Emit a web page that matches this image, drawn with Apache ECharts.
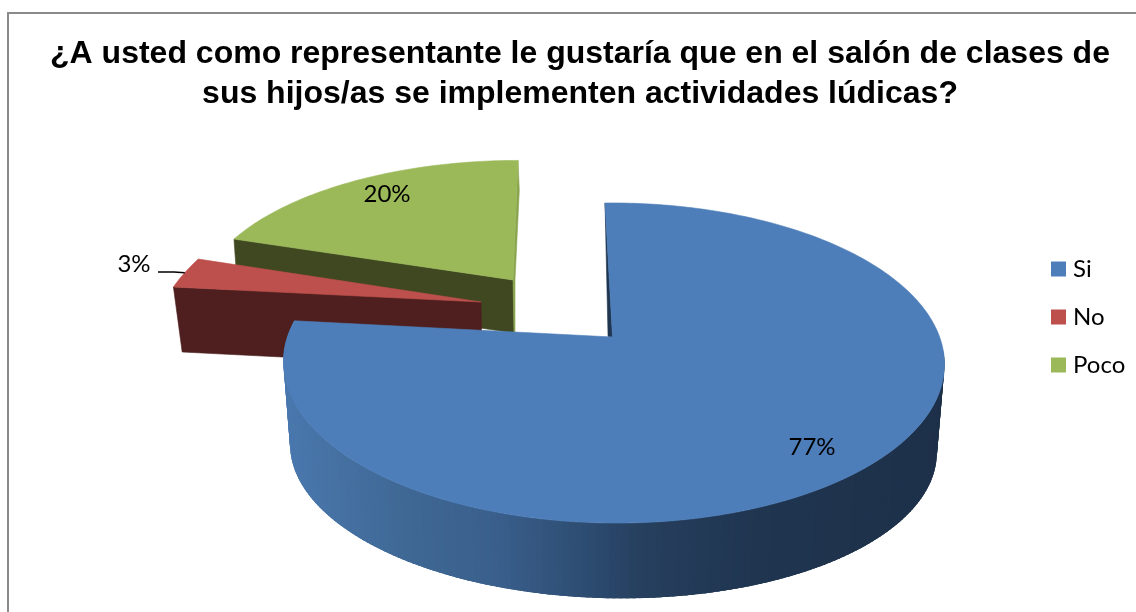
<!DOCTYPE html>
<html><head><meta charset="utf-8">
<style>html,body{margin:0;padding:0;background:#fff}#c{width:1136px;height:612px}</style>
<script src="https://cdn.jsdelivr.net/npm/echarts@6/dist/echarts.min.js"></script>
</head><body><div id="c"></div>
<script>
const titleLines = ['¿A usted como representante le gustaría que en el salón de clases de', 'sus hijos/as se implementen actividades lúdicas?'];
const categories = ['Si', 'No', 'Poco'];
const values = [77, 3, 20];
const colors = ['#4e7eb9', '#bd4f4c', '#9bb959'];
const wallColors = ['#1f3550', '#4e1f1e', '#3f4820'];
const total = values.reduce((a, b) => a + b, 0);

// Perspective of each exploded slice: top face and bottom face of the extruded disc
const K = 0.1625;
const planes = [
  { top: { x: 612.5, y: 337, a: 326, b: 155.8, s: -8.7, q: 3 }, bottom: { x: 612, y: 424, a: 319, b: 146, s: -8.7, q: 0 } },
  { top: { x: 481, y: 302, a: 319, b: 161, s: 21, q: 4.9 }, bottom: { x: 482, y: 367, a: 311, b: 122, s: 21, q: 0 } },
  { top: { x: 513, y: 280, a: 310, b: 139, s: 5.8, q: 0 }, bottom: { x: 514, y: 333, a: 307, b: 139, s: 5.8, q: 0 } }
];
const labelPos = [[812, 447], [134, 264], [387, 194]];
const sideStops = [[285, [74, 120, 174]], [400, [64, 105, 150]], [500, [58, 95, 140]], [600, [43, 74, 110]], [640, [39, 64, 95]], [760, [31, 53, 80]], [950, [30, 48, 73]]];
const LABEL_FONT = '24px Lato, "Open Sans", sans-serif';

function project(p, deg, r) {
  const t = deg * Math.PI / 180, u = r * Math.sin(t), v = r * Math.cos(t), w = 1 + K * v;
  return [p.x + (p.a * u + p.s * v) / w, p.y - (p.b * v + p.q * u) / w];
}
function arc(p, from, to) {
  const pts = [], n = Math.max(2, Math.ceil(Math.abs(to - from)));
  for (let i = 0; i <= n; i++) pts.push(project(p, from + (to - from) * i / n, 1));
  return pts;
}
function sideColor(x) {
  for (let i = 1; i < sideStops.length; i++) {
    if (x <= sideStops[i][0]) {
      const a = sideStops[i - 1], b = sideStops[i], f = Math.max(0, (x - a[0]) / (b[0] - a[0]));
      return 'rgb(' + a[1].map((c, j) => Math.round(c + (b[1][j] - c) * f)).join(',') + ')';
    }
  }
  return 'rgb(' + sideStops[sideStops.length - 1][1].join(',') + ')';
}
function poly(points, fill, stroke) {
  return { type: 'polygon', shape: { points: points }, style: stroke ? { fill: fill, stroke: fill, lineWidth: 0.6 } : { fill: fill } };
}
function angles(idx) {
  const before = values.slice(0, idx).reduce((a, b) => a + b, 0);
  return [before / total * 360, (before + values[idx]) / total * 360];
}
function renderSlice(params, api) {
  const idx = params.seriesIndex, pl = planes[idx];
  const [from, to] = angles(idx);
  const share = api.value(0) / total;
  const children = [];
  const cTop = [pl.top.x, pl.top.y], cBot = [pl.bottom.x, pl.bottom.y];
  if (idx === 0) {
    // curved front side: overlapping strips painted right to left, so no seams show
    for (let d = 96; d < to; d += 1) {
      const e = Math.min(d + 2.5, to);
      const a = project(pl.top, d, 1), b = project(pl.top, e, 1), c = project(pl.bottom, e, 1), f = project(pl.bottom, d, 1);
      children.push(poly([a, b, c, f], sideColor((a[0] + f[0]) / 2)));
    }
    // thin inner wall next to the opening
    const far = project(pl.top, from, 1), end = project(pl.top, to, 1);
    children.push(poly([far, cTop, [cTop[0] + 0.014 * (end[0] - cTop[0]), cTop[1] + 0.014 * (end[1] - cTop[1])]], wallColors[0], true));
  } else {
    // flat wall along the slice's left-hand radius
    const t0 = project(pl.top, from, 1), b0 = project(pl.bottom, from, 1);
    children.push(poly([t0, cTop, cBot, b0], wallColors[idx], true));
    if (idx === 2) {
      const far = project(pl.top, to, 1);
      children.push(poly([far, [far[0] + 1.3, far[1] + 30], [cTop[0] + 2, cTop[1]], [cBot[0] + 1, cBot[1]], cBot, cTop], '#89a44e', true));
    }
  }
  children.push(poly([cTop].concat(arc(pl.top, from, to)), colors[idx], true));
  const text = Math.round(share * 100) + '%';
  if (idx === 1) {
    const tip = project(pl.top, (from + to) / 2, 1);
    children.push({ type: 'polyline', shape: { points: [[labelPos[1][0] + 24, labelPos[1][1] + 8], [labelPos[1][0] + 40, labelPos[1][1] + 8], tip] }, style: { stroke: '#000', fill: null, lineWidth: 1.5 } });
  }
  children.push({ type: 'text', z2: 10, style: { text: text, x: labelPos[idx][0], y: labelPos[idx][1], fill: '#000', font: LABEL_FONT, align: 'center', verticalAlign: 'middle' } });
  return { type: 'group', children: children };
}
const seriesZ = [4, 3, 2];
const chart = echarts.init(document.getElementById('c'), null, { renderer: 'canvas' });
chart.setOption({
  animation: false,
  backgroundColor: '#fff',
  title: {
    text: titleLines.join('\n'), left: 575, top: 29, textAlign: 'center',
    textStyle: { fontFamily: '"Liberation Sans", Arial, sans-serif', fontWeight: 'bold', fontSize: 32, lineHeight: 40, color: '#000' }
  },
  legend: {
    orient: 'vertical', left: 1046, top: 252, data: categories, icon: 'rect', itemWidth: 15, itemHeight: 15, itemGap: 24, selectedMode: false,
    textStyle: { fontFamily: 'Lato, "Open Sans", sans-serif', fontSize: 24, color: '#000', padding: [0, 0, 0, 2] }
  },
  graphic: [
    { type: 'line', silent: true, shape: { x1: 7, y1: 13, x2: 1136, y2: 13 }, style: { stroke: '#8a8a8a', lineWidth: 2 } },
    { type: 'line', silent: true, shape: { x1: 8, y1: 12, x2: 8, y2: 612 }, style: { stroke: '#8a8a8a', lineWidth: 2 } }
  ],
  series: categories.map((name, i) => ({
    type: 'custom', name: name, coordinateSystem: 'none', silent: true, z: seriesZ[i],
    itemStyle: { color: colors[i] }, data: [[values[i]]], renderItem: renderSlice
  }))
});
</script></body></html>
